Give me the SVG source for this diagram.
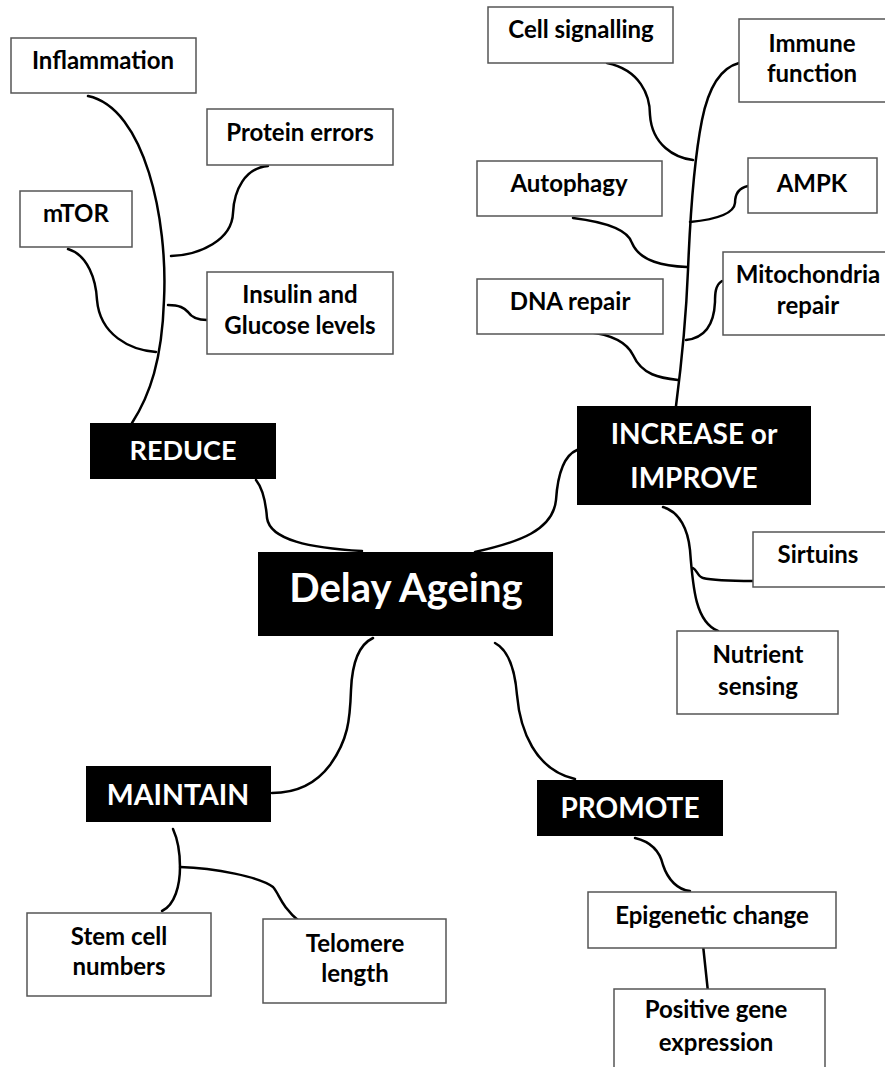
<svg xmlns="http://www.w3.org/2000/svg" width="885" height="1067" viewBox="0 0 885 1067">
<style>
.box{fill:#fff;stroke:#555;stroke-width:1.5}
.hub{fill:#000;stroke:none}
.t{font-family:Lato,"Liberation Sans",sans-serif;font-weight:bold;font-size:24px;fill:#000;text-anchor:middle}
.h{font-family:Lato,"Liberation Sans",sans-serif;font-weight:bold;font-size:28px;fill:#fff;text-anchor:middle}
.c{fill:none;stroke:#000;stroke-width:2.5;stroke-linecap:round}
</style>
<rect width="885" height="1067" fill="#fff"/>
<g id="connectors">
<path class="c" d="M88,96 C145,108 168,220 164,300 C162,360 150,395 132,423"/>
<path class="c" d="M268,166 C245,168 234,190 233,213 C232,240 200,255 171,256"/>
<path class="c" d="M68,249 C88,255 96,280 97,300 C100,335 130,350 156,352"/>
<path class="c" d="M168,305 C180,305 184,308 188,312 C192,318 198,320 207,320"/>
<path class="c" d="M256,480 C264,490 266,505 267,518 C270,540 310,548 362,551"/>
<path class="c" d="M475,552 C520,542 553,530 556,500 C558,470 565,455 577,450"/>
<path class="c" d="M739,63 C720,68 708,90 702,120 C694,160 690,220 688,270 C686,320 682,360 676,406"/>
<path class="c" d="M607,63 C640,70 650,95 650,115 C652,145 675,158 693,160"/>
<path class="c" d="M748,186 C738,188 735,195 735,203 C734,215 710,220 690,222"/>
<path class="c" d="M573,218 C605,222 628,230 632,243 C640,262 665,266 687,267"/>
<path class="c" d="M722,281 C715,285 715,295 715,302 C714,325 705,338 686,340"/>
<path class="c" d="M588,332 C615,335 628,345 633,355 C642,375 660,378 678,380"/>
<path class="c" d="M663,507 C680,512 688,530 690,550 C693,590 696,622 718,631"/>
<path class="c" d="M693,568 C697,570 698,577 703,578 C715,581 735,581 753,581"/>
<path class="c" d="M373,638 C358,645 352,665 351,690 C350,720 348,740 330,765 C315,785 295,793 272,793"/>
<path class="c" d="M173,829 C178,840 180,855 180,867 C180,885 175,905 162,911"/>
<path class="c" d="M180,867 C215,868 260,877 273,887 C280,895 280,905 300,922"/>
<path class="c" d="M495,643 C508,650 515,670 517,695 C520,730 535,770 575,779"/>
<path class="c" d="M635,838 C652,842 660,852 663,865 C668,880 678,890 690,891"/>
<path class="c" d="M703,945 L708,992"/>
</g>
<g id="inflammation"><rect class="box" x="11" y="38" width="185" height="55"/><text class="t" x="103" y="69">Inflammation</text></g>
<g id="protein-errors"><rect class="box" x="207" y="109" width="186" height="56"/><text class="t" x="300" y="141">Protein errors</text></g>
<g id="mtor"><rect class="box" x="20" y="191" width="112" height="56"/><text class="t" x="76" y="222">mTOR</text></g>
<g id="insulin"><rect class="box" x="207" y="272" width="186" height="82"/><text class="t" x="300" y="303">Insulin and</text><text class="t" x="300" y="334">Glucose levels</text></g>
<g id="reduce"><rect class="hub" x="90" y="423" width="186" height="56"/><text class="h" x="183" y="460" style="font-size:27px">REDUCE</text></g>
<g id="cell-signalling"><rect class="box" x="488" y="7" width="185" height="56"/><text class="t" x="581" y="38">Cell signalling</text></g>
<g id="immune-function"><rect class="box" x="739" y="19" width="150" height="83"/><text class="t" x="812" y="52">Immune</text><text class="t" x="812" y="82">function</text></g>
<g id="autophagy"><rect class="box" x="477" y="161" width="185" height="55"/><text class="t" x="569" y="192">Autophagy</text></g>
<g id="ampk"><rect class="box" x="748" y="158" width="129" height="55"/><text class="t" x="812" y="192">AMPK</text></g>
<g id="mitochondria-repair"><rect class="box" x="723" y="252" width="166" height="83"/><text class="t" x="808" y="283">Mitochondria</text><text class="t" x="808" y="314">repair</text></g>
<g id="dna-repair"><rect class="box" x="477" y="279" width="186" height="55"/><text class="t" x="570" y="310">DNA repair</text></g>
<g id="increase-improve"><rect class="hub" x="577" y="406" width="234" height="99"/><text class="h" x="694" y="444">INCREASE or</text><text class="h" x="694" y="488">IMPROVE</text></g>
<g id="sirtuins"><rect class="box" x="753" y="532" width="136" height="55"/><text class="t" x="818" y="563">Sirtuins</text></g>
<g id="nutrient-sensing"><rect class="box" x="677" y="631" width="161" height="83"/><text class="t" x="758" y="663">Nutrient</text><text class="t" x="758" y="695">sensing</text></g>
<g id="delay-ageing"><rect class="hub" x="258" y="552" width="295" height="84"/><text class="h" x="406" y="602" style="font-size:40px">Delay Ageing</text></g>
<g id="maintain"><rect class="hub" x="86" y="766" width="185" height="56"/><text class="h" x="178" y="805" style="font-size:28.5px">MAINTAIN</text></g>
<g id="promote"><rect class="hub" x="537" y="780" width="186" height="56"/><text class="h" x="630" y="818">PROMOTE</text></g>
<g id="stem-cell-numbers"><rect class="box" x="27" y="913" width="184" height="83"/><text class="t" x="119" y="945">Stem cell</text><text class="t" x="119" y="975">numbers</text></g>
<g id="telomere-length"><rect class="box" x="263" y="919" width="183" height="84"/><text class="t" x="355" y="952">Telomere</text><text class="t" x="355" y="982">length</text></g>
<g id="epigenetic-change"><rect class="box" x="588" y="892" width="248" height="56"/><text class="t" x="712" y="924">Epigenetic change</text></g>
<g id="positive-gene-expression"><rect class="box" x="614" y="989" width="211" height="85"/><text class="t" x="716" y="1018">Positive gene</text><text class="t" x="716" y="1051">expression</text></g>
</svg>
